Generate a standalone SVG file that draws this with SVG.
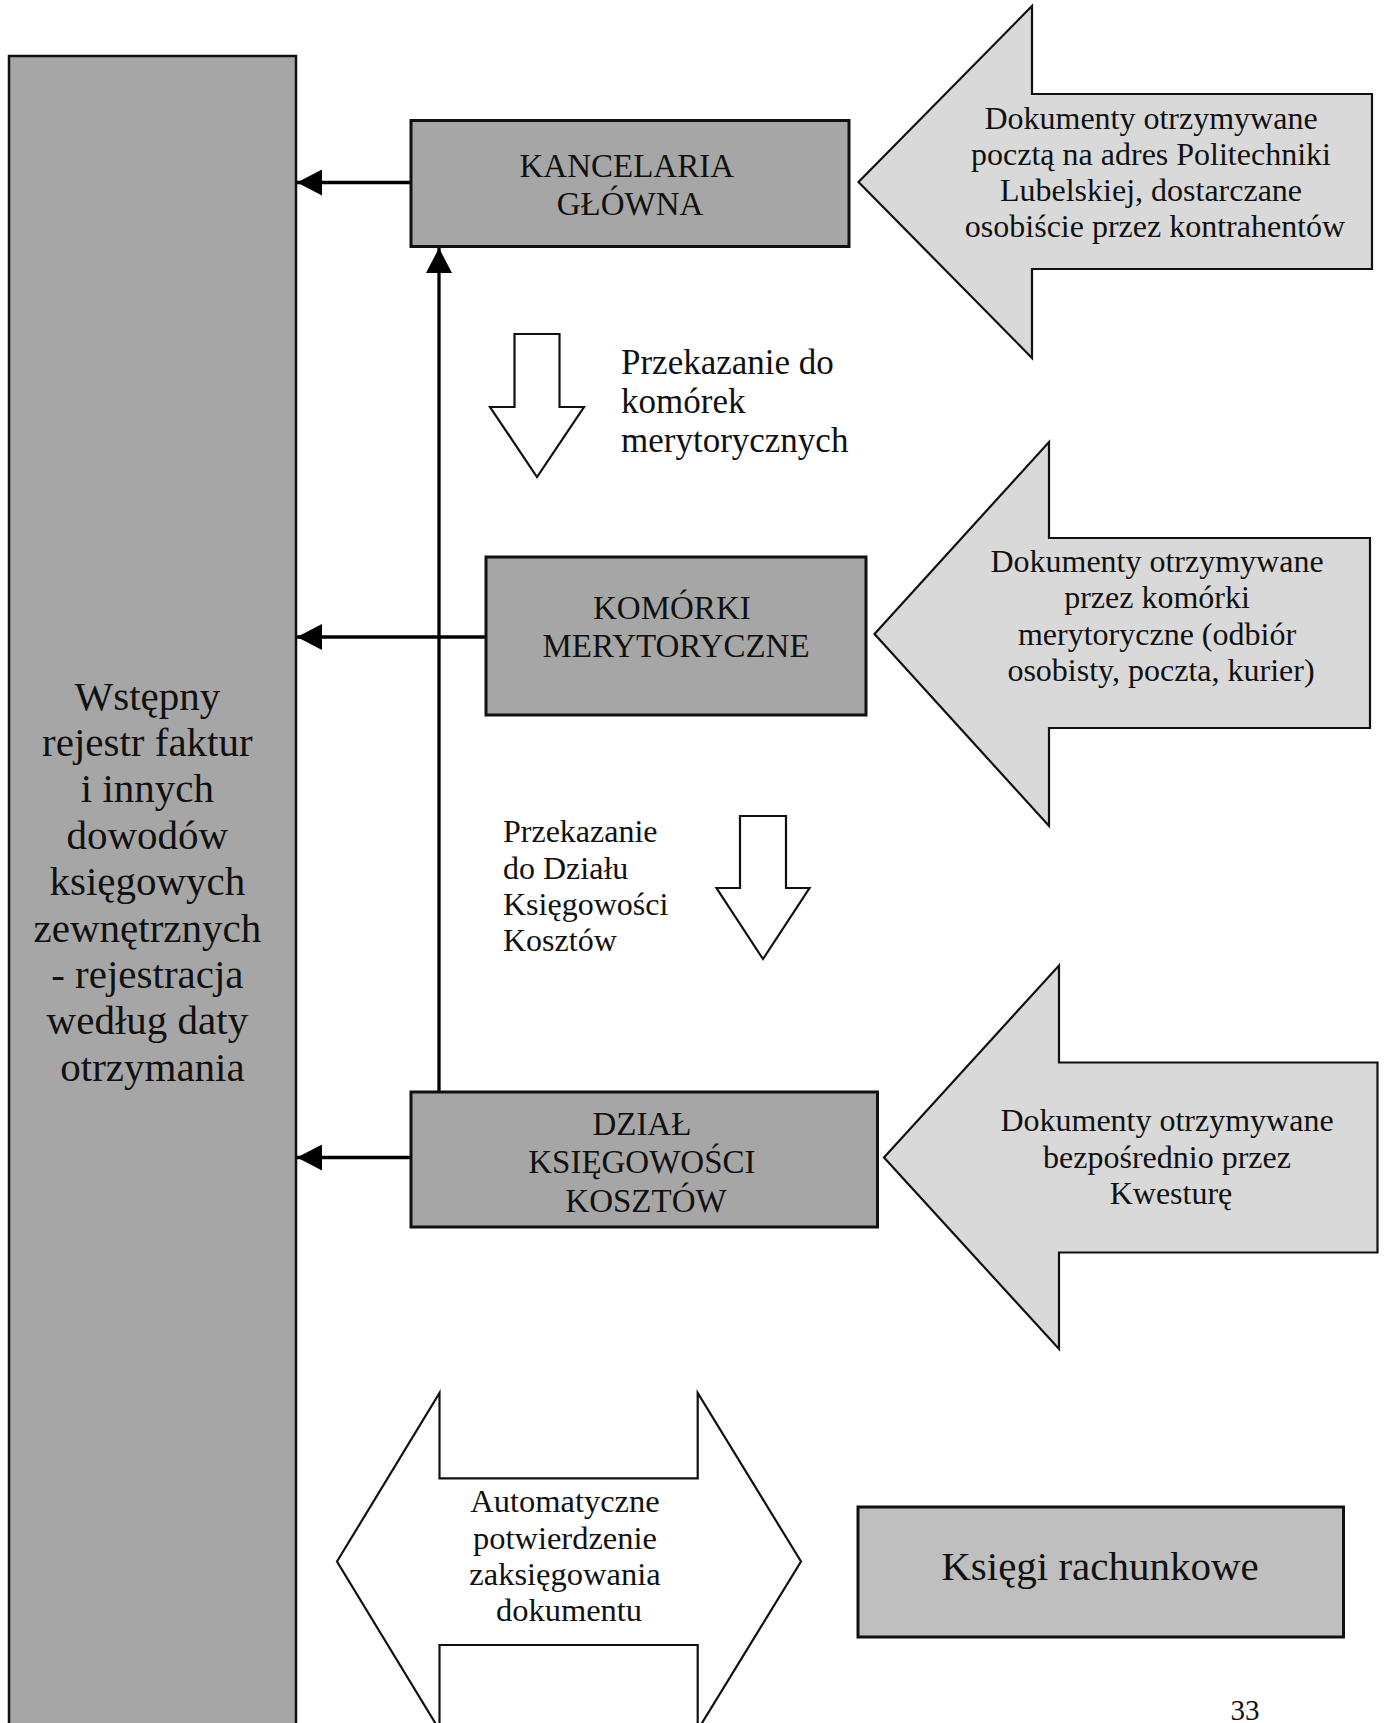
<svg xmlns="http://www.w3.org/2000/svg" width="1384" height="1723" viewBox="0 0 1384 1723">
<style>
  text { font-family: "Liberation Serif", "Times New Roman", serif; fill: #111; }
  .box { fill: #a6a6a6; stroke: #111; stroke-width: 3; }
  .big { fill: #d9d9d9; stroke: #111; stroke-width: 2.2; stroke-linejoin: miter; }
  .hollow { fill: #fff; stroke: #111; stroke-width: 2.2; }
  .conn { stroke: #000; stroke-width: 3.3; fill: none; }
  .c { text-anchor: middle; }
</style>
<defs>
  <marker id="ah" markerUnits="userSpaceOnUse" markerWidth="26" markerHeight="26" refX="25" refY="13" orient="auto">
    <path d="M0,0 L25,13 L0,26 z" fill="#000"/>
  </marker>
</defs>
<rect width="1384" height="1723" fill="#fff"/>

<g id="rejestr">
  <rect x="9" y="56" width="287" height="1690" fill="#a6a6a6" stroke="#111" stroke-width="2.5"/>
  <text class="c" font-size="41">
    <tspan x="152.5" y="709.5">Wstępny</tspan>
    <tspan x="152.5" y="756">rejestr faktur</tspan>
    <tspan x="152.5" y="802">i innych</tspan>
    <tspan x="152.5" y="849">dowodów</tspan>
    <tspan x="152.5" y="895">księgowych</tspan>
    <tspan x="152.5" y="941.5">zewnętrznych</tspan>
    <tspan x="152.5" y="988">- rejestracja</tspan>
    <tspan x="152.5" y="1034">według daty</tspan>
    <tspan x="152.5" y="1081">otrzymania</tspan>
  </text>
</g>

<g id="connectors">
  <line class="conn" x1="411" y1="182.5" x2="297" y2="182.5" marker-end="url(#ah)"/>
  <line class="conn" x1="486" y1="637" x2="297" y2="637" marker-end="url(#ah)"/>
  <line class="conn" x1="411" y1="1157.5" x2="297" y2="1157.5" marker-end="url(#ah)"/>
  <line class="conn" x1="439" y1="1092" x2="439" y2="248" marker-end="url(#ah)"/>
</g>

<g id="kancelaria">
  <rect class="box" x="411" y="120.5" width="438" height="126"/>
  <text class="c" font-size="33">
    <tspan x="630" y="176.7">KANCELARIA</tspan>
    <tspan x="630" y="215">GŁÓWNA</tspan>
  </text>
</g>

<g id="komorki">
  <rect class="box" x="486" y="557" width="380" height="158"/>
  <text class="c" font-size="33">
    <tspan x="676" y="618.5">KOMÓRKI</tspan>
    <tspan x="676" y="657">MERYTORYCZNE</tspan>
  </text>
</g>

<g id="dzial">
  <rect class="box" x="411" y="1092" width="466.5" height="135"/>
  <text class="c" font-size="33">
    <tspan x="646" y="1135">DZIAŁ</tspan>
    <tspan x="646" y="1173.3">KSIĘGOWOŚCI</tspan>
    <tspan x="646" y="1211.5">KOSZTÓW</tspan>
  </text>
</g>

<g id="wejscie1">
  <polygon class="big" points="858.5,182 1032,6 1032,94 1372,94 1372,269 1032,269 1032,358"/>
  <text class="c" font-size="32">
    <tspan x="1155" y="128.5">Dokumenty otrzymywane</tspan>
    <tspan x="1155" y="165">pocztą na adres Politechniki</tspan>
    <tspan x="1155" y="201">Lubelskiej, dostarczane</tspan>
    <tspan x="1155" y="237">osobiście przez kontrahentów</tspan>
  </text>
</g>

<g id="wejscie2">
  <polygon class="big" points="874.5,634 1049,442 1049,538 1370,538 1370,728 1049,728 1049,826"/>
  <text class="c" font-size="32">
    <tspan x="1161" y="571.5">Dokumenty otrzymywane</tspan>
    <tspan x="1161" y="608">przez komórki</tspan>
    <tspan x="1161" y="644.5">merytoryczne (odbiór</tspan>
    <tspan x="1161" y="680.5">osobisty, poczta, kurier)</tspan>
  </text>
</g>

<g id="wejscie3">
  <polygon class="big" points="884,1157.5 1059,965.5 1059,1062.5 1377.5,1062.5 1377.5,1252.5 1059,1252.5 1059,1349"/>
  <text class="c" font-size="32">
    <tspan x="1171" y="1131">Dokumenty otrzymywane</tspan>
    <tspan x="1171" y="1168">bezpośrednio przez</tspan>
    <tspan x="1171" y="1204">Kwesturę</tspan>
  </text>
</g>

<g id="przekazanie1">
  <polygon class="hollow" points="514.5,334 559.5,334 559.5,407 584,407 537,477 490,407 514.5,407"/>
  <text font-size="35">
    <tspan x="621" y="374">Przekazanie do</tspan>
    <tspan x="621" y="413">komórek</tspan>
    <tspan x="621" y="452">merytorycznych</tspan>
  </text>
</g>

<g id="przekazanie2">
  <polygon class="hollow" points="740,816 786,816 786,888 809.5,888 763,959 716.5,888 740,888"/>
  <text font-size="32">
    <tspan x="503" y="842">Przekazanie</tspan>
    <tspan x="503" y="879">do Działu</tspan>
    <tspan x="503" y="915">Księgowości</tspan>
    <tspan x="503" y="951">Kosztów</tspan>
  </text>
</g>

<g id="potwierdzenie">
  <polygon class="hollow" points="337,1561.5 439.5,1393 439.5,1478.3 697.7,1478.3 697.7,1393 801,1561.5 697.7,1730 697.7,1645 439.5,1645 439.5,1730"/>
  <text class="c" font-size="32.5">
    <tspan x="569" y="1512">Automatyczne</tspan>
    <tspan x="569" y="1548.5">potwierdzenie</tspan>
    <tspan x="569" y="1584.5">zaksięgowania</tspan>
    <tspan x="569" y="1620.5">dokumentu</tspan>
  </text>
</g>

<g id="ksiegi">
  <rect x="858" y="1507" width="485.5" height="130" fill="#bfbfbf" stroke="#111" stroke-width="3"/>
  <text class="c" x="1100" y="1580" font-size="41">Księgi rachunkowe</text>
</g>

<text class="c" x="1245" y="1720" font-size="29">33</text>
</svg>
